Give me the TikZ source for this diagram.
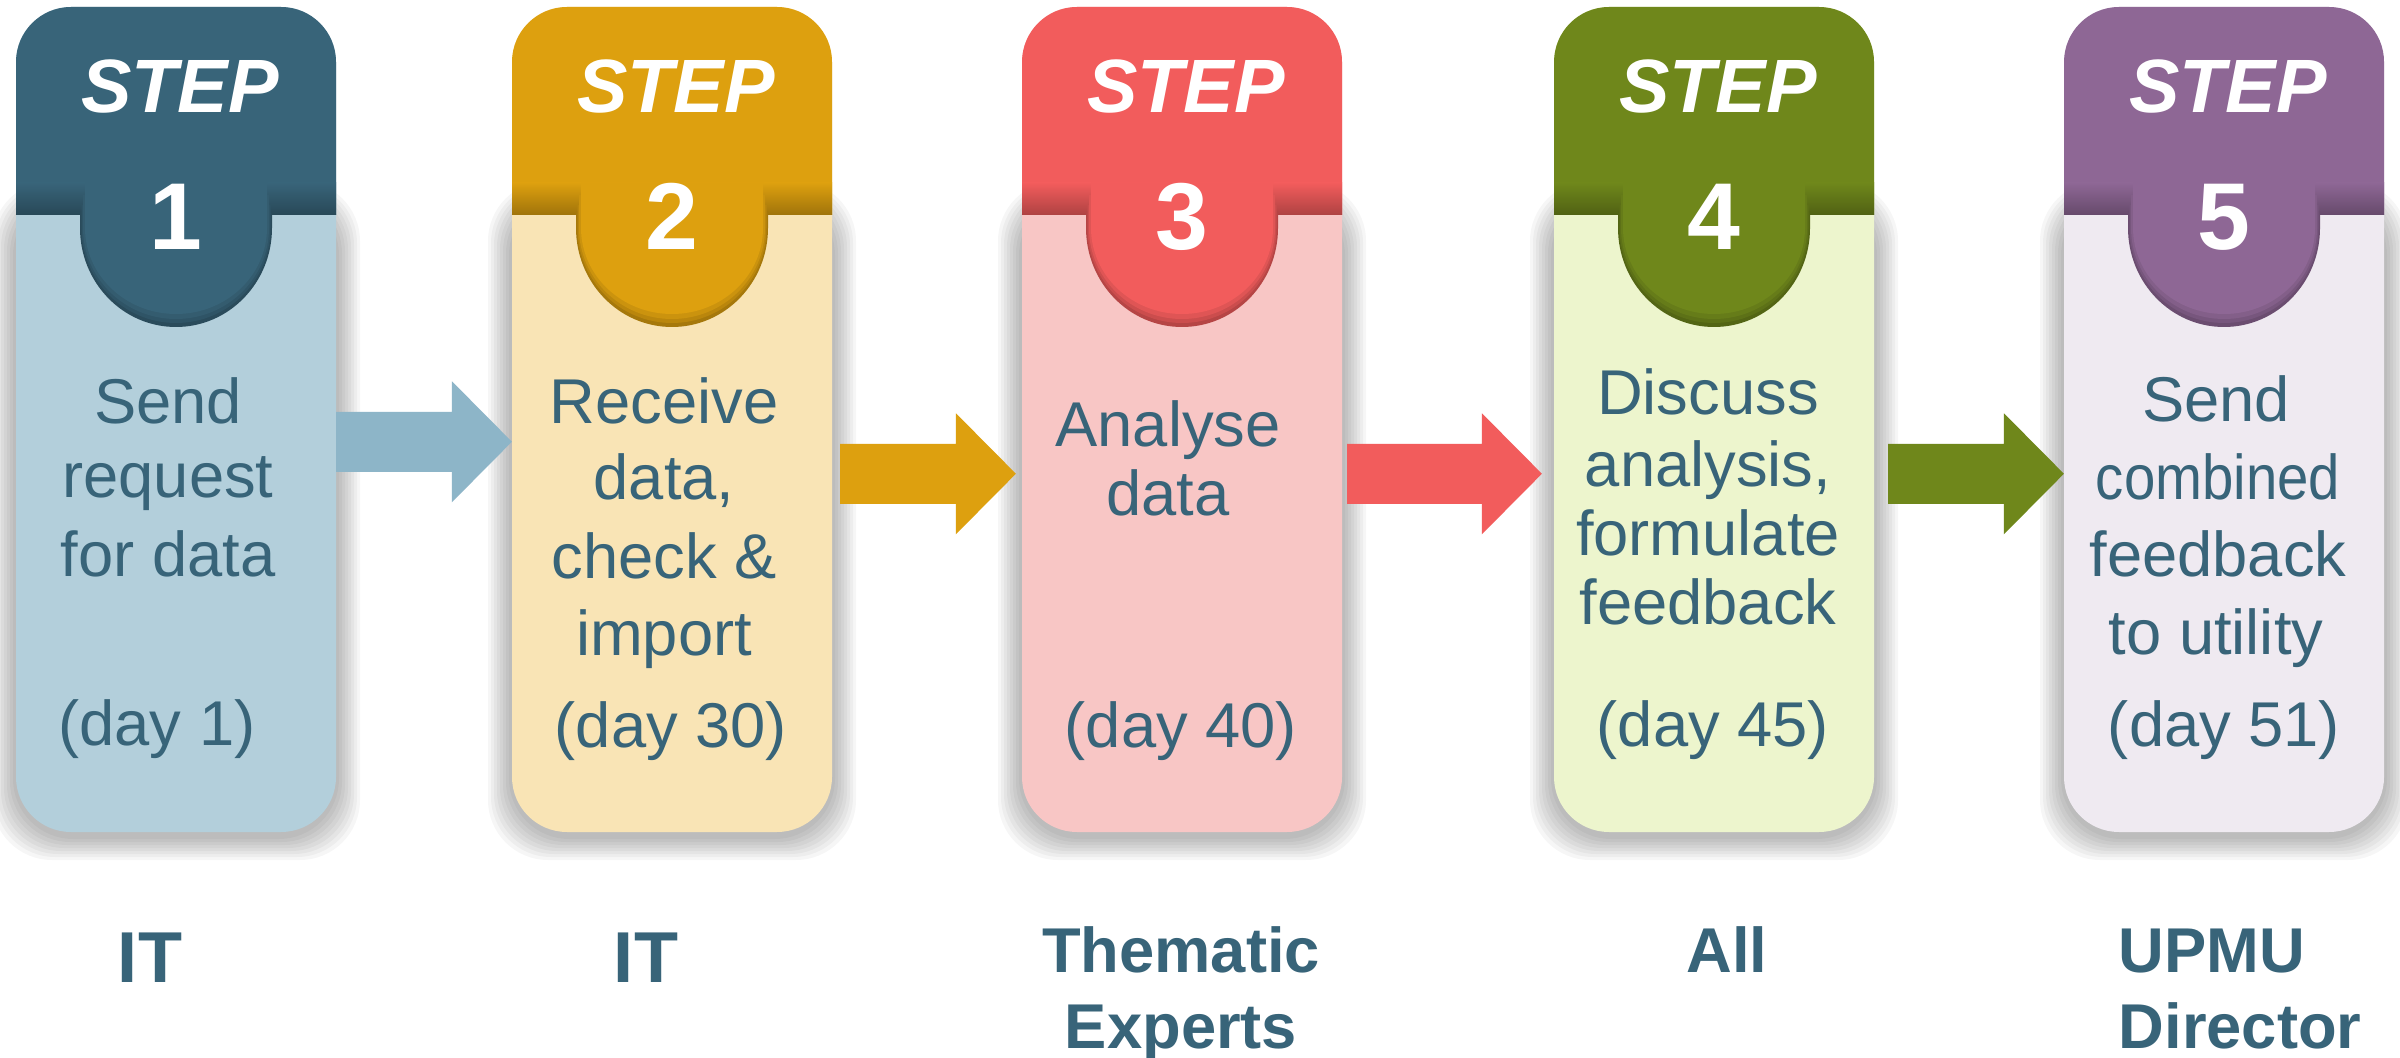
\documentclass[tikz,border=0pt]{standalone}
\usepackage{fontspec}
\setmainfont{Liberation Sans}
\usepackage{graphicx}
\usetikzlibrary{calc}
\definecolor{txt}{HTML}{386479}
\definecolor{hdrA}{HTML}{386479}
\definecolor{bodyA}{HTML}{B3CFDB}
\definecolor{arrA}{HTML}{8DB5C8}
\definecolor{hdrB}{HTML}{DDA00F}
\definecolor{bodyB}{HTML}{F9E4B5}
\definecolor{hdrC}{HTML}{F25C5C}
\definecolor{bodyC}{HTML}{F8C6C5}
\definecolor{hdrD}{HTML}{6F871B}
\definecolor{bodyD}{HTML}{EDF5CD}
\definecolor{hdrE}{HTML}{8E6795}
\definecolor{bodyE}{HTML}{EFEAF1}
\tikzset{
  bodytxt/.style={font=\fontsize{18}{22}\selectfont, text=txt, anchor=base, inner sep=0pt},
  steptxt/.style={font=\fontsize{21.5}{24}\selectfont\bfseries\itshape, text=white, anchor=base, inner sep=0pt},
  numtxt/.style={font=\fontsize{27}{30}\selectfont\bfseries, text=white, anchor=base, inner sep=0pt},
  roletxt/.style={font=\fontsize{18}{22}\selectfont\bfseries, text=txt, anchor=base, inner sep=0pt},
  bigrole/.style={font=\fontsize{20.5}{24}\selectfont\bfseries, text=txt, anchor=base, inner sep=0pt},
  cardframe/.style={minimum width=3.2cm, minimum height=8.25cm, inner sep=0pt, outer sep=0pt}
}
% #1 centre x, #2 x radius, #3 y radius, #4 colour, #5 top y
\newcommand\tabshape[5]{%
  \fill[#4] (#1-#2,#5) -- (#1-#2,228)
    .. controls (#1-#2,228+0.5523*#3) and (#1-0.5523*#2,228+#3) .. (#1,228+#3)
    .. controls (#1+0.5523*#2,228+#3) and (#1+#2,228+0.5523*#3) .. (#1+#2,228)
    -- (#1+#2,#5) -- cycle;}
\newcommand\stepcard[5]{%
  \pgfmathsetmacro\cardR{#2+320}%
  \pgfmathsetmacro\cardC{#2+160}%
  \foreach \i in {1,...,8}{\fill[black,opacity=0.035,rounded corners=0.6cm] (#2-3*\i,197-2*\i) rectangle (\cardR+3*\i,836+3*\i);}
  \fill[#4,rounded corners=0.55cm] (#2,7) rectangle (\cardR,832);
  \begin{scope}
    \clip (#2-5,0) rectangle (\cardR+5,215);
    \fill[#3,rounded corners=0.55cm] (#2,7) rectangle (\cardR,832);
    \shade[top color=#3, bottom color=#3!72!black] (#2,183) rectangle (\cardR,215);
  \end{scope}
  \tabshape{\cardC}{96}{99}{#3!75!black}{212}
  \tabshape{\cardC}{94.5}{95}{#3!84!black}{205}
  \tabshape{\cardC}{93}{91}{#3!92!black}{195}
  \tabshape{\cardC}{91}{86}{#3}{183}
  \node[cardframe] (#1) at (\cardC,419.5) {};
  \node[steptxt] (#1s) at (\cardC+4,113) {STEP};
  \node[numtxt] (#1n) at (\cardC,250) {#5};
}
\newcommand\flowarrow[6]{%
  \fill[#1] ($(#2.north east)+(#5,#4-30)$) -- ($(#3.north west)+(-#6-60,#4-30)$)
    -- ($(#3.north west)+(-#6-60,#4-60.5)$) -- ($(#3.north west)+(-#6,#4)$)
    -- ($(#3.north west)+(-#6-60,#4+60.5)$) -- ($(#3.north west)+(-#6-60,#4+30)$)
    -- ($(#2.north east)+(#5,#4+30)$) -- cycle;}
\begin{document}
\begin{tikzpicture}[x=0.01cm,y=-0.01cm]
\useasboundingbox (0,0) rectangle (2400,1058);
\fill[white] (0,0) rectangle (2400,1058);
\stepcard{b1}{16}{hdrA}{bodyA}{1}
\stepcard{b2}{512}{hdrB}{bodyB}{2}
\stepcard{b3}{1022}{hdrC}{bodyC}{3}
\stepcard{b4}{1554}{hdrD}{bodyD}{4}
\stepcard{b5}{2064}{hdrE}{bodyE}{5}
% box texts
\node[bodytxt] (t1a) at (168,423) {Send};
\node[bodytxt] (t1b) at (168,498) {request};
\node[bodytxt] (t1c) at (168,576) {for data};
\node[bodytxt] (t1d) at (157,745) {(day 1)};
\node[bodytxt] (t2a) at (664,423) {Receive};
\node[bodytxt] (t2b) at (664,500) {data,};
\node[bodytxt] (t2c) at (664,578) {check \&};
\node[bodytxt] (t2d) at (664,655) {import};
\node[bodytxt] (t2e) at (671,747) {(day 30)};
\node[bodytxt] (t3a) at (1168,447) {Analyse};
\node[bodytxt] (t3b) at (1168,515) {data};
\node[bodytxt] (t3c) at (1181,747) {(day 40)};
\node[bodytxt] (t4a) at (1708,415) {Discuss};
\node[bodytxt] (t4b) at (1708,486) {analysis,};
\node[bodytxt] (t4c) at (1708,555) {formulate};
\node[bodytxt] (t4d) at (1708,624) {feedback};
\node[bodytxt] (t4e) at (1713,746) {(day 45)};
\node[bodytxt] (t5a) at (2216,422) {Send};
\node[bodytxt] (t5b) at (2218,500) {\scalebox{0.89}[1]{combined}};
\node[bodytxt] (t5c) at (2218,577) {feedback};
\node[bodytxt] (t5d) at (2216,654) {to utility};
\node[bodytxt] (t5e) at (2224,746) {(day 51)};
% roles
\node[bigrole] (r1) at (150,982) {IT};
\node[bigrole] (r2) at (646,982) {IT};
\node[roletxt] (r3a) at (1181,972) {Thematic};
\node[roletxt] (r3b) at (1181,1048) {Experts};
\node[roletxt] (r4) at (1727,972) {All};
\node[roletxt, anchor=base west] (r5a) at (2118,972) {UPMU};
\node[roletxt, anchor=base west] (r5b) at (2118,1048) {Director};
% arrows
\flowarrow{arrA}{b1}{b2}{435}{0}{0}
\flowarrow{hdrB}{b2}{b3}{467}{8}{6}
\flowarrow{hdrC}{b3}{b4}{467}{5}{12}
\flowarrow{hdrD}{b4}{b5}{467}{14}{0}
\end{tikzpicture}
\end{document}
